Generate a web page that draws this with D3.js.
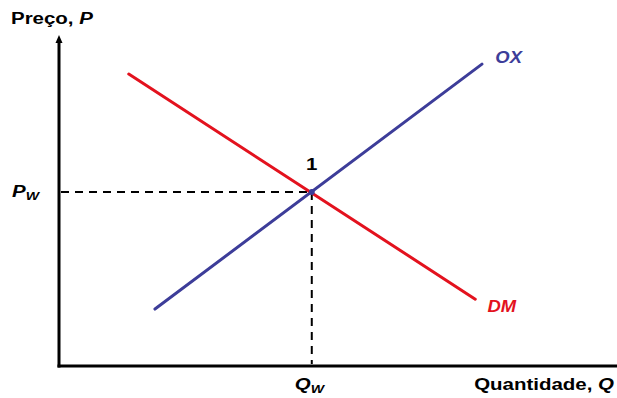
<!DOCTYPE html>
<html>
<head>
<meta charset="utf-8">
<script src="https://cdn.jsdelivr.net/npm/d3@7"></script>
<style>
  html, body { margin: 0; padding: 0; background: #fff; }
  text { font-family: Arial, "Liberation Sans", sans-serif; font-weight: bold; }
</style>
</head>
<body>
<div class="forSvg"></div>
<script>
// -DATA-
// curve names
const curves = ["OX", "DM"];
// supply curve endpoints (quantity, price)
const oxQ = [17.2, 75.8];
const oxP = [17.2, 91.2];
// demand curve endpoints (quantity, price)
const dmQ = [12.5, 74.6];
const dmP = [88.2, 20.2];
// world equilibrium point
const eqQ = 45.3;
const eqP = 52.6;
// axis labels
const yLabel = ["Preço, ", "P"];
const xLabel = ["Quantidade, ", "Q"];
const pointLabel = "1";

// -VARIABLES-
const svg_w = 617;
const svg_h = 398;
const stretch = 1.28;

const supply = "#3d3d99";
const demand = "#e3121e";

// scales
const xScale = d3.scaleLinear()
                .domain([0, 100])
                .range([59, 617]);
const yScale = d3.scaleLinear()
                .domain([0, 100])
                .range([366, 35]);

const svg = d3.select(".forSvg")
                .append("svg")
                .attr("width", svg_w)
                .attr("height", svg_h);

// -AXES-
// y axis line
svg.append("line")
    .attr("x1", xScale(0)).attr("x2", xScale(0))
    .attr("y1", yScale(0) + 1.5).attr("y2", yScale(100) + 6)
    .attr("stroke", "#000")
    .attr("stroke-width", 3);

// arrow head on y axis
svg.append("path")
    .attr("d", d3.line()([
        [xScale(0) - 3.5, yScale(100) + 8],
        [xScale(0), yScale(100)],
        [xScale(0) + 3.5, yScale(100) + 8]
    ]) + "Z")
    .attr("fill", "#000");

// x axis line
svg.append("line")
    .attr("x1", xScale(0) - 1.5).attr("x2", xScale(100))
    .attr("y1", yScale(0)).attr("y2", yScale(0))
    .attr("stroke", "#000")
    .attr("stroke-width", 3);

// -DASHED GUIDES-
svg.append("line")
    .attr("x1", xScale(0) + 2).attr("x2", xScale(eqQ))
    .attr("y1", yScale(eqP)).attr("y2", yScale(eqP))
    .attr("stroke", "#000")
    .attr("stroke-width", 2)
    .attr("stroke-dasharray", "8,6");

svg.append("line")
    .attr("x1", xScale(eqQ)).attr("x2", xScale(eqQ))
    .attr("y1", yScale(eqP)).attr("y2", yScale(0) - 2)
    .attr("stroke", "#000")
    .attr("stroke-width", 2)
    .attr("stroke-dasharray", "8,6");

// -CURVES-
const line = d3.line()
    .x(d => xScale(d[0]))
    .y(d => yScale(d[1]));

const curveData = [
    { name: curves[0], pts: d3.zip(oxQ, oxP), color: supply },
    { name: curves[1], pts: d3.zip(dmQ, dmP), color: demand }
];

svg.selectAll("path.curve")
    .data(curveData)
    .enter()
    .append("path")
    .attr("class", "curve")
    .attr("d", d => line(d.pts))
    .attr("fill", "none")
    .attr("stroke", d => d.color)
    .attr("stroke-width", 3)
    .attr("stroke-linecap", "round");

// curve labels (placed just past the end of each curve)
const labelPos = [[78.2, 91.6], [76.8, 16.3]];
svg.selectAll("text.curveLabel")
    .data(curveData)
    .enter()
    .append("text")
    .attr("class", "curveLabel")
    .attr("transform", (d, i) => "translate(" + xScale(labelPos[i][0]) + "," + yScale(labelPos[i][1]) + ") scale(1.15,1)")
    .attr("font-size", "16px")
    .attr("font-style", "italic")
    .attr("fill", d => d.color)
    .text(d => d.name);

// equilibrium dot + label
svg.append("circle")
    .attr("cx", xScale(eqQ))
    .attr("cy", yScale(eqP))
    .attr("r", 3)
    .attr("fill", supply);

svg.append("text")
    .attr("transform", "translate(" + xScale(eqQ) + "," + (yScale(eqP) - 22) + ") scale(" + stretch + ",1)")
    .attr("text-anchor", "middle")
    .attr("font-size", "16px")
    .text(pointLabel);

// -TITLES-
// y title
const yt = svg.append("text")
    .attr("transform", "translate(11,24) scale(" + stretch + ",1)")
    .attr("font-size", "16px");
yt.append("tspan").text(yLabel[0]);
yt.append("tspan").attr("font-style", "italic").text(yLabel[1]);

// x title
const xt = svg.append("text")
    .attr("transform", "translate(614,390) scale(" + stretch + ",1)")
    .attr("text-anchor", "end")
    .attr("font-size", "16px");
xt.append("tspan").text(xLabel[0]);
xt.append("tspan").attr("font-style", "italic").text(xLabel[1]);

// P_W label
const pw = svg.append("text")
    .attr("transform", "translate(12," + (yScale(eqP) + 5) + ") scale(" + stretch + ",1)")
    .attr("font-size", "16px")
    .attr("font-style", "italic");
pw.append("tspan").text("P");
pw.append("tspan").attr("font-size", "11px").attr("dy", 3).text("W");

// Q_W label
const qw = svg.append("text")
    .attr("transform", "translate(" + (xScale(eqQ) - 17) + ",390) scale(" + stretch + ",1)")
    .attr("font-size", "16px")
    .attr("font-style", "italic");
qw.append("tspan").text("Q");
qw.append("tspan").attr("font-size", "11px").attr("dy", 3).text("W");
</script>
</body>
</html>
